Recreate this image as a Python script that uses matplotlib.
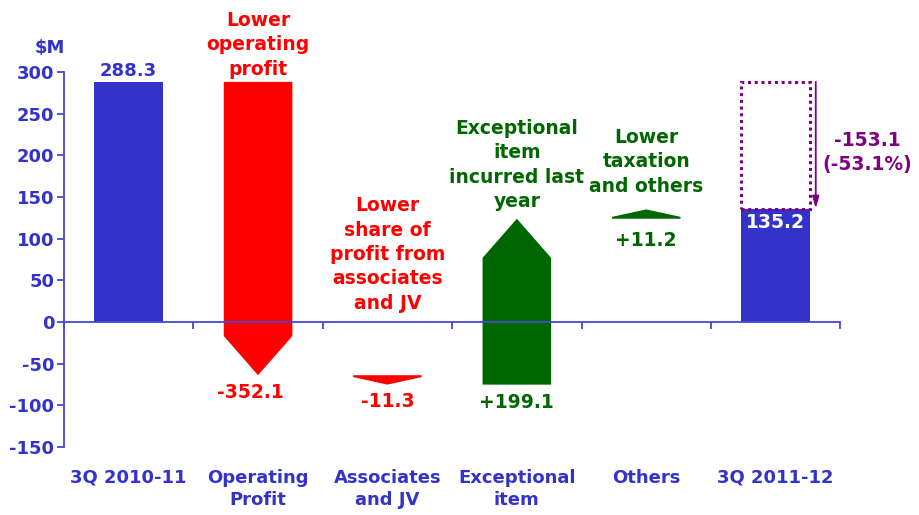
import matplotlib
matplotlib.use("Agg")
import matplotlib.pyplot as plt
from matplotlib.patches import Polygon, Rectangle
import matplotlib.transforms as mtransforms

# ---- data ----
categories = ["3Q 2010-11", "Operating\nProfit", "Associates\nand JV",
              "Exceptional\nitem", "Others", "3Q 2011-12"]
start_total = 288.3
deltas = [-352.1, -11.3, 199.1, 11.2]
end_total = 135.2
change_total = -153.1
change_pct = -53.1
delta_labels = ["-352.1", "-11.3", "+199.1", "+11.2"]
notes = ["Lower\noperating\nprofit",
         "Lower\nshare of\nprofit from\nassociates\nand JV",
         "Exceptional\nitem\nincurred last\nyear",
         "Lower\ntaxation\nand others"]
yticks = [-150, -100, -50, 0, 50, 100, 150, 200, 250, 300]

BLUE = "#3333CC"
AXBLUE = "#4646D8"
RED = "#FF0000"
GREEN = "#006600"
PURPLE = "#800080"

fig = plt.figure(figsize=(9.19, 5.15), dpi=100)
ax = fig.add_axes([0.0696, 0.132, 0.8448, 0.728])
ax.set_xlim(-0.5, 5.5)
ax.set_ylim(-150, 300)

W = 0.53
FONT = "DejaVu Sans"
FS = 13.5

# start bar
ax.bar(0, start_total, width=W, color=BLUE, zorder=2)
ax.text(0, start_total + 2, f"{start_total:.1f}", ha="center", va="bottom",
        color=BLUE, fontsize=13, fontweight="bold", family=FONT)

# waterfall arrows
level = start_total
colors = []
for i, d in enumerate(deltas):
    x = i + 1
    col = RED if d < 0 else GREEN
    colors.append(col)
    end = level + d
    sign = 1 if d > 0 else -1
    h = min(47.0, 0.8 * abs(d))
    neck = end - sign * h
    pts = [(x - W / 2, level), (x + W / 2, level), (x + W / 2, neck),
           (x, end), (x - W / 2, neck)]
    ax.add_patch(Polygon(pts, closed=True, facecolor=col, edgecolor="none", zorder=2))
    level = end

# delta value labels
lab_pos = [(0.94, -84), (2, -95), (3, -97), (4, 98)]
for (x, y), t, col in zip(lab_pos, delta_labels, colors):
    ax.text(x, y, t, ha="center", va="center", color=col, fontsize=13.5,
            fontweight="bold", family=FONT)

# notes
note_pos = [(1, 333), (2, 81), (3, 188.5), (4, 192.5)]
for (x, y), t, col in zip(note_pos, notes, colors):
    ax.text(x, y, t, ha="center", va="center", color=col, fontsize=FS,
            fontweight="bold", family=FONT, linespacing=1.36, clip_on=False)

# end bar
ax.bar(5, end_total, width=W, color=BLUE, zorder=2)
ax.text(5, 120, f"{end_total:.1f}", ha="center", va="center",
        color="white", fontsize=13.5, fontweight="bold", family=FONT, zorder=3)
ax.add_patch(Rectangle((5 - W / 2, end_total), W, start_total - end_total,
                       fill=False, edgecolor=PURPLE, linestyle=(0, (1, 1.2)),
                       linewidth=2.2, zorder=3))
ax.annotate("", xy=(5.31, end_total + 1), xytext=(5.31, start_total),
            arrowprops=dict(arrowstyle="-|>,head_length=0.7,head_width=0.2",
                            color=PURPLE, lw=1.3, shrinkA=0, shrinkB=0))
ax.text(5.71, 203.5, f"{change_total:.1f}\n({change_pct:.1f}%)", ha="center",
        va="center", color=PURPLE, fontsize=FS, fontweight="bold",
        family=FONT, linespacing=1.3, clip_on=False)

# axes styling
for s in ["top", "right"]:
    ax.spines[s].set_visible(False)
ax.spines["bottom"].set_position(("data", 0))
ax.spines["bottom"].set_color(AXBLUE)
ax.spines["left"].set_color(AXBLUE)
ax.spines["bottom"].set_linewidth(1.3)
ax.spines["left"].set_linewidth(1.3)
ax.spines["left"].set_bounds(-150, 300)

ax.set_yticks(yticks)
ax.set_yticklabels([str(v) for v in yticks])
ax.tick_params(axis="y", colors=AXBLUE, length=5, width=1.3, direction="out", pad=2)
for lab in ax.get_yticklabels():
    lab.set_color(BLUE)
    lab.set_fontweight("bold")
    lab.set_fontsize(13)
    lab.set_family(FONT)

ax.set_xticks([i - 0.5 for i in range(len(categories) + 1)])
ax.set_xticklabels([""] * (len(categories) + 1))
ax.tick_params(axis="x", colors=AXBLUE, length=5, width=1.3, direction="out")

trans = mtransforms.blended_transform_factory(ax.transData, ax.transAxes)
for i, c in enumerate(categories):
    ax.text(i, -0.058, c, transform=trans, ha="center", va="top", color=BLUE,
            fontsize=13, fontweight="bold", family=FONT, linespacing=1.3)

fig.text(50 / 919, 1 - 48 / 515, "$M", ha="center", va="center",
         color=BLUE, fontsize=13, fontweight="bold", family=FONT)

fig.savefig("out.png", dpi=100)
